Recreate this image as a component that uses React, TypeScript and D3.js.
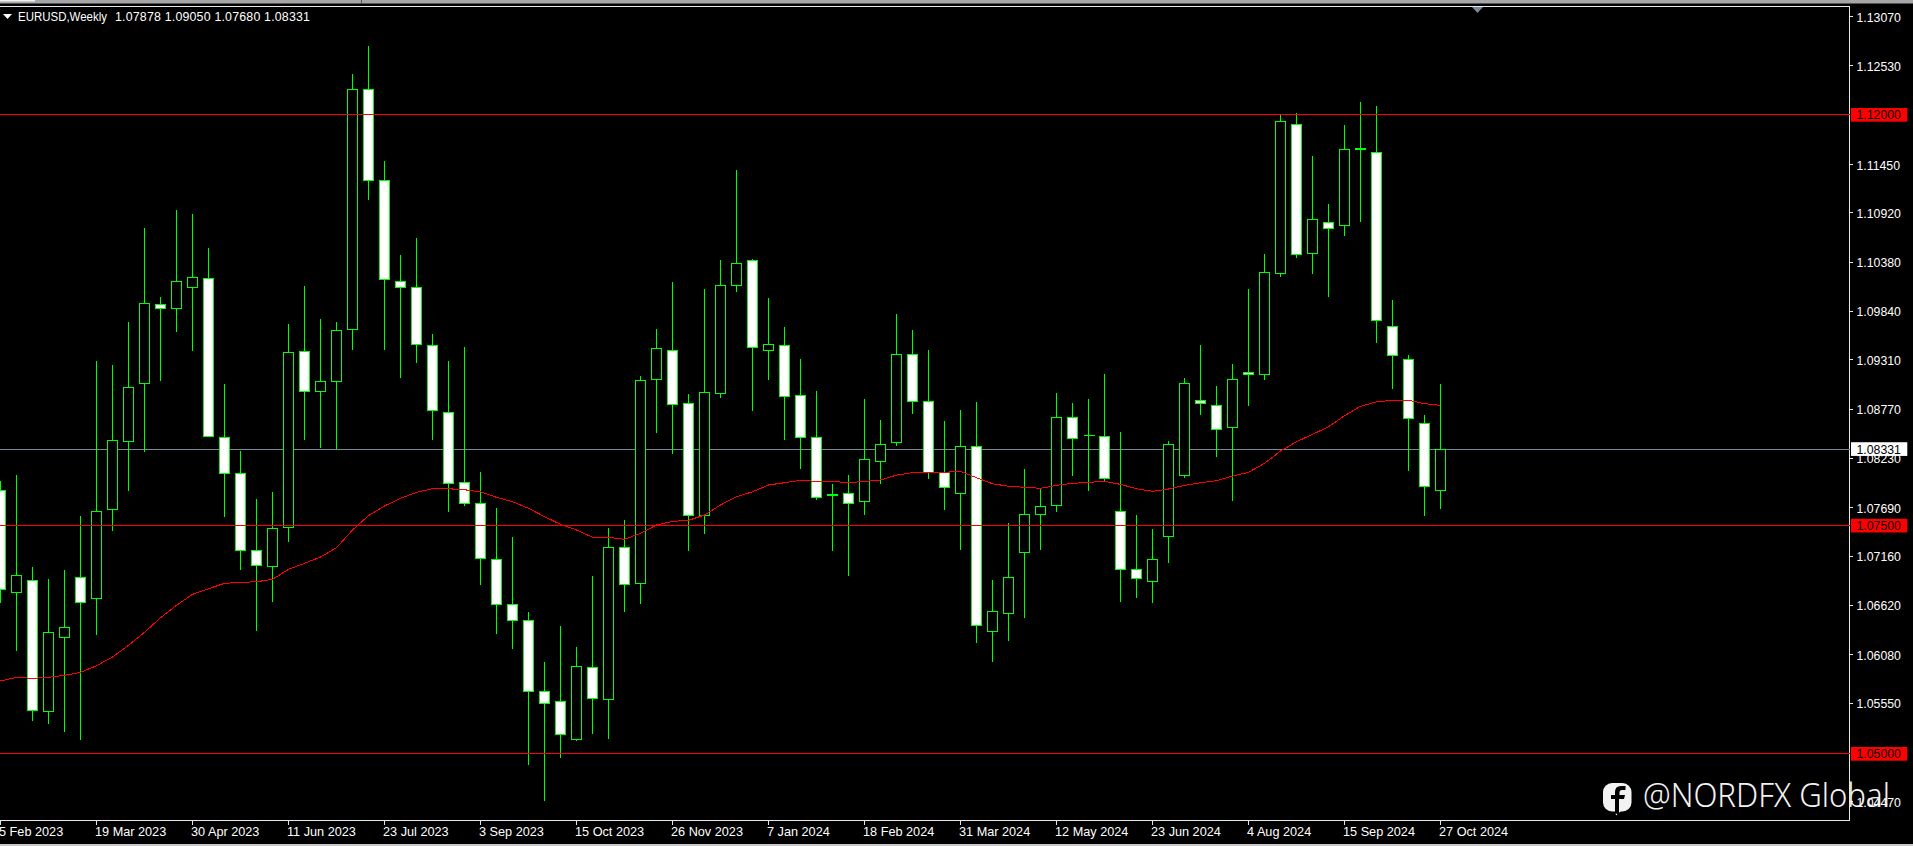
import React from 'react';
import * as d3 from 'd3';

// weekly EURUSD, one entry per bar
const opens = [
  1.07881, 1.06763, 1.06895, 1.05455, 1.0627, 1.06928, 1.06698, 1.07673, 1.08418, 1.09053,
  1.09918, 1.0987, 1.10105, 1.10203, 1.08461, 1.08067, 1.07224, 1.07048, 1.07475, 1.09404,
  1.08965, 1.09075, 1.09645, 1.12274, 1.11277, 1.1017, 1.10105, 1.09469, 1.08735, 1.07968,
  1.07738, 1.07125, 1.06632, 1.06457, 1.05679, 1.05569, 1.05153, 1.05942, 1.05591, 1.07256,
  1.06862, 1.09097, 1.09415, 1.08834, 1.07607, 1.08943, 1.10127, 1.104, 1.09415, 1.09469,
  1.08921, 1.08461, 1.07826, 1.07848, 1.0776, 1.08198, 1.08407, 1.09371, 1.08856, 1.08078,
  1.07848, 1.08363, 1.06334, 1.06533, 1.07197, 1.07613, 1.07716, 1.0868, 1.08483, 1.08472,
  1.07651, 1.07015, 1.06884, 1.07377, 1.08041, 1.08867, 1.08812, 1.08571, 1.09174, 1.09147,
  1.10258, 1.1189, 1.10477, 1.10817, 1.10784, 1.11617, 1.11584, 1.09677, 1.09316, 1.08615, 1.07878,
];
const closes = [
  1.06796, 1.0695, 1.05471, 1.06325, 1.0638, 1.06654, 1.07651, 1.08429, 1.09009, 1.09929,
  1.0987, 1.1017, 1.10214, 1.08472, 1.08067, 1.07224, 1.07059, 1.07465, 1.09393, 1.08965,
  1.09075, 1.09634, 1.12274, 1.11277, 1.10192, 1.10105, 1.0948, 1.08757, 1.07957, 1.07738,
  1.07136, 1.06632, 1.06457, 1.05679, 1.05547, 1.05208, 1.05953, 1.05602, 1.07256, 1.06851,
  1.09086, 1.09436, 1.08823, 1.07607, 1.08954, 1.10127, 1.10368, 1.09447, 1.0948, 1.08911,
  1.08461, 1.07804, 1.07832, 1.07738, 1.0822, 1.08385, 1.09371, 1.08856, 1.08078, 1.07914,
  1.08363, 1.06402, 1.06555, 1.06928, 1.07618, 1.07705, 1.0868, 1.0845, 1.08483, 1.08012,
  1.07015, 1.06912, 1.07125, 1.08385, 1.09053, 1.08834, 1.08549, 1.09097, 1.09147, 1.10269,
  1.11923, 1.10466, 1.1085, 1.10751, 1.11616, 1.11623, 1.09743, 1.0936, 1.08669, 1.07925, 1.08331,
];
const highs = [
  1.07983, 1.08048, 1.0704, 1.06909, 1.07008, 1.07599, 1.09297, 1.09253, 1.09725, 1.10754,
  1.09998, 1.10951, 1.10908, 1.10535, 1.09045, 1.08311, 1.07785, 1.07862, 1.09703, 1.10119,
  1.09757, 1.09725, 1.12441, 1.12748, 1.11485, 1.10458, 1.10645, 1.09593, 1.09297, 1.09447,
  1.08081, 1.07687, 1.07369, 1.06548, 1.06, 1.06394, 1.06164, 1.06942, 1.07468, 1.07555,
  1.09133, 1.09648, 1.10163, 1.08936, 1.10086, 1.10404, 1.1139, 1.10415, 1.09987, 1.0967,
  1.09319, 1.08969, 1.07946, 1.08048, 1.08881, 1.08651, 1.09812, 1.09637, 1.09418, 1.0864,
  1.0876, 1.08848, 1.06898, 1.07522, 1.08114, 1.079, 1.08947, 1.08837, 1.08881, 1.09155,
  1.08519, 1.0761, 1.07457, 1.08421, 1.09111, 1.09473, 1.09023, 1.09264, 1.10086, 1.10469,
  1.11992, 1.12014, 1.11543, 1.11017, 1.11883, 1.12135, 1.12091, 1.09965, 1.09363, 1.08702, 1.0905,
];
const lows = [
  1.06649, 1.06124, 1.05357, 1.05324, 1.05236, 1.05149, 1.06299, 1.07438, 1.07876, 1.08304,
  1.09081, 1.09618, 1.0941, 1.08472, 1.07592, 1.07011, 1.06343, 1.0666, 1.07318, 1.08435,
  1.08344, 1.0833, 1.09421, 1.11061, 1.09421, 1.09114, 1.09279, 1.08435, 1.07646, 1.07712,
  1.06847, 1.0631, 1.06145, 1.04875, 1.04477, 1.04951, 1.05138, 1.05214, 1.0516, 1.06551,
  1.06639, 1.08512, 1.08282, 1.07219, 1.07405, 1.08895, 1.10056, 1.08753, 1.09092, 1.08435,
  1.08117, 1.07778, 1.07219, 1.06945, 1.07613, 1.07953, 1.08369, 1.0872, 1.08008, 1.07668,
  1.0723, 1.06211, 1.06003, 1.06233, 1.06485, 1.0723, 1.07646, 1.08041, 1.07876, 1.07983,
  1.0666, 1.06704, 1.06649, 1.07088, 1.08019, 1.08709, 1.08246, 1.07767, 1.08808, 1.09092,
  1.10221, 1.10429, 1.10254, 1.10002, 1.1067, 1.10823, 1.09494, 1.08994, 1.08095, 1.07603, 1.0768,
];
// moving average overlay
const maValues = [
  1.05792, 1.05832, 1.05821, 1.05832, 1.05854, 1.05887, 1.05959, 1.06055, 1.06183, 1.06325,
  1.06485, 1.06621, 1.06741, 1.06803, 1.06862, 1.06873, 1.06879, 1.06906, 1.07015, 1.07081,
  1.0715, 1.07252, 1.07446, 1.07603, 1.07709, 1.07793, 1.07859, 1.07898, 1.07898, 1.07887,
  1.07865, 1.07804, 1.07756, 1.07684, 1.07592, 1.07508, 1.07446, 1.07366, 1.07366, 1.07344,
  1.0741, 1.07501, 1.07541, 1.07552, 1.0761, 1.0772, 1.07811, 1.07865, 1.07939, 1.07964,
  1.0799, 1.07979, 1.07979, 1.07964, 1.07979, 1.07994, 1.08048, 1.08074, 1.08074, 1.08078,
  1.08089, 1.08019, 1.07953, 1.07925, 1.07914, 1.07903, 1.07935, 1.07957, 1.07968, 1.07979,
  1.07946, 1.07898, 1.0787, 1.07895, 1.07935, 1.07964, 1.07986, 1.08037, 1.08078, 1.08176,
  1.08311, 1.08413, 1.08494, 1.08577, 1.08698, 1.08801, 1.08851, 1.08867, 1.08867, 1.0883, 1.08812,
];

const dateLabels = [
  '5 Feb 2023', '19 Mar 2023', '30 Apr 2023', '11 Jun 2023', '23 Jul 2023', '3 Sep 2023',
  '15 Oct 2023', '26 Nov 2023', '7 Jan 2024', '18 Feb 2024', '31 Mar 2024', '12 May 2024',
  '23 Jun 2024', '4 Aug 2024', '15 Sep 2024', '27 Oct 2024',
];
const priceTicks = [
  1.1307, 1.1253, 1.1145, 1.1092, 1.1038, 1.0984, 1.0931, 1.0877, 1.0823, 1.0769, 1.0716,
  1.0662, 1.0608, 1.0555, 1.0447,
];
const levels = [1.12, 1.075, 1.05];
const lastPrice = 1.08331;
const barsPerLabel = 6;

const WIDTH = 1913;
const HEIGHT = 846;
const FRAME_TOP = 6;
const FRAME_RIGHT = 1849.5;
const FRAME_BOTTOM = 820.5;
const AXIS_FONT = '"Liberation Sans", sans-serif';
const GREEN = '#00ff00';

const x = d3.scaleLinear().domain([0, 90]).range([0.4, 1440.4]);
const y = d3.scaleLinear().domain([1.05, 1.12]).range([753.3, 114.3]);

// MT4 draws on whole pixels
const snap = (v: number) => Math.floor(v) + 0.5;

const maLine = d3
  .line<number>()
  .x((_d, i) => x(i) + 0.1)
  .y(d => y(d));

const App: React.FC = () => {
  return (
    <svg
      width={WIDTH}
      height={HEIGHT}
      viewBox={`0 0 ${WIDTH} ${HEIGHT}`}
      style={{ position: 'fixed', left: 0, top: 0, background: '#000', display: 'block' }}
    >
      {/* window chrome */}
      <rect x={0} y={0} width={WIDTH} height={3.5} fill="#a6a6a6" />
      <rect x={0} y={0} width={35} height={1.5} fill="#f0f0f0" />
      <rect x={361} y={0} width={1} height={3.5} fill="#555" />
      <rect x={0} y={844} width={WIDTH} height={2} fill="#c8c8c8" />

      {/* frame */}
      <g stroke="#e8e8e8" strokeWidth={1} shapeRendering="crispEdges" fill="none">
        <line x1={0} x2={FRAME_RIGHT} y1={FRAME_TOP + 0.5} y2={FRAME_TOP + 0.5} />
        <line x1={0} x2={FRAME_RIGHT} y1={FRAME_BOTTOM} y2={FRAME_BOTTOM} />
        <line x1={FRAME_RIGHT} x2={FRAME_RIGHT} y1={FRAME_TOP} y2={FRAME_BOTTOM} />
      </g>
      <path d="M1472 7 L1483 7 L1477.5 13 Z" fill="#778899" />

      {/* last price line sits behind the bars */}
      <line
        x1={0}
        x2={FRAME_RIGHT}
        y1={snap(y(lastPrice))}
        y2={snap(y(lastPrice))}
        stroke="#778899"
        shapeRendering="crispEdges"
      />

      {/* candles */}
      <g shapeRendering="crispEdges">
        {opens.map((open, i) => {
          const cx = snap(x(i));
          const top = snap(y(Math.max(open, closes[i])));
          const bottom = snap(y(Math.min(open, closes[i])));
          const bear = closes[i] < open;
          return (
            <g key={i}>
              <line x1={cx} x2={cx} y1={y(highs[i])} y2={y(lows[i])} stroke={GREEN} />
              {top === bottom ? (
                <line x1={cx - 5} x2={cx + 6} y1={top} y2={top} stroke={GREEN} />
              ) : (
                <rect
                  x={cx - 5}
                  y={top}
                  width={10}
                  height={bottom - top}
                  fill={bear ? '#fff' : '#000'}
                  stroke={GREEN}
                />
              )}
            </g>
          );
        })}
      </g>

      {/* moving average + levels on top of the bars */}
      <path
        d={maLine(maValues) ?? ''}
        fill="none"
        stroke="#ff0000"
        strokeWidth={1}
        shapeRendering="crispEdges"
      />
      {levels.map(level => (
        <line
          key={level}
          x1={0}
          x2={FRAME_RIGHT}
          y1={snap(y(level))}
          y2={snap(y(level))}
          stroke="#ff0000"
          shapeRendering="crispEdges"
        />
      ))}

      {/* header */}
      <path d="M3 14 L12 14 L7.5 19 Z" fill="#fff" />
      <text x={18} y={21} fill="#fff" fontFamily={AXIS_FONT} fontSize={12} textLength={89} lengthAdjust="spacingAndGlyphs">
        EURUSD,Weekly
      </text>
      <text x={115} y={21} fill="#fff" fontFamily={AXIS_FONT} fontSize={12.4} textLength={195} lengthAdjust="spacing">
        1.07878 1.09050 1.07680 1.08331
      </text>

      {/* price axis */}
      {priceTicks.map(tick => (
        <g key={tick}>
          <line
            x1={FRAME_RIGHT}
            x2={FRAME_RIGHT + 3.5}
            y1={snap(y(tick))}
            y2={snap(y(tick))}
            stroke="#e8e8e8"
            shapeRendering="crispEdges"
          />
          <text
            x={1856.5}
            y={y(tick) + 5}
            fill="#fff"
            fontFamily={AXIS_FONT}
            fontSize={12.3}
          >
            {tick.toFixed(5)}
          </text>
        </g>
      ))}
      {levels.map(level => (
        <g key={level}>
          <rect x={1851} y={y(level) - 6.3} width={56.3} height={13.7} fill="#ff0000" />
          <text x={1856.5} y={y(level) + 5} fill="#000" fontFamily={AXIS_FONT} fontSize={12.3}>
            {level.toFixed(5)}
          </text>
        </g>
      ))}
      <rect x={1851} y={y(lastPrice) - 7} width={56.3} height={13.7} fill="#fff" />
      <text x={1856.5} y={y(lastPrice) + 4.5} fill="#000" fontFamily={AXIS_FONT} fontSize={12.3}>
        {lastPrice.toFixed(5)}
      </text>

      {/* time axis */}
      {dateLabels.map((label, i) => {
        const tx = snap(x(i * barsPerLabel));
        return (
          <g key={label}>
            <line
              x1={tx}
              x2={tx}
              y1={FRAME_BOTTOM}
              y2={FRAME_BOTTOM + 4}
              stroke="#e8e8e8"
              shapeRendering="crispEdges"
            />
            <text
              x={tx - 1.5}
              y={836}
              fill="#fff"
              fontFamily={AXIS_FONT}
              fontSize={12.7}
            >
              {label}
            </text>
          </g>
        );
      })}

      {/* watermark */}
      <g fill="#f2f2f2">
        <rect x={1603} y={783} width={28.5} height={28.5} rx={9} />
        <path d="M1615 808 L1622 810 L1616 815.5 Z" />
        <path
          d="M1619 815 L1619 799 L1624 799 L1625 795 L1619.5 795 L1619.5 792.5 Q1619.5 790 1622 790 L1625.5 790 L1625.5 786 L1621 786 Q1615 786 1615 792 L1615 795 L1611 795 L1611 799 L1615 799 L1615 813 Z"
          fill="#000"
        />
        <text
          x={1643}
          y={807}
          fontFamily='"Noto Sans", sans-serif'
          fontWeight={300}
          fontSize={33}
          textLength={247}
          lengthAdjust="spacingAndGlyphs"
        >
          @NORDFX Global
        </text>
      </g>
    </svg>
  );
};

export default App;
